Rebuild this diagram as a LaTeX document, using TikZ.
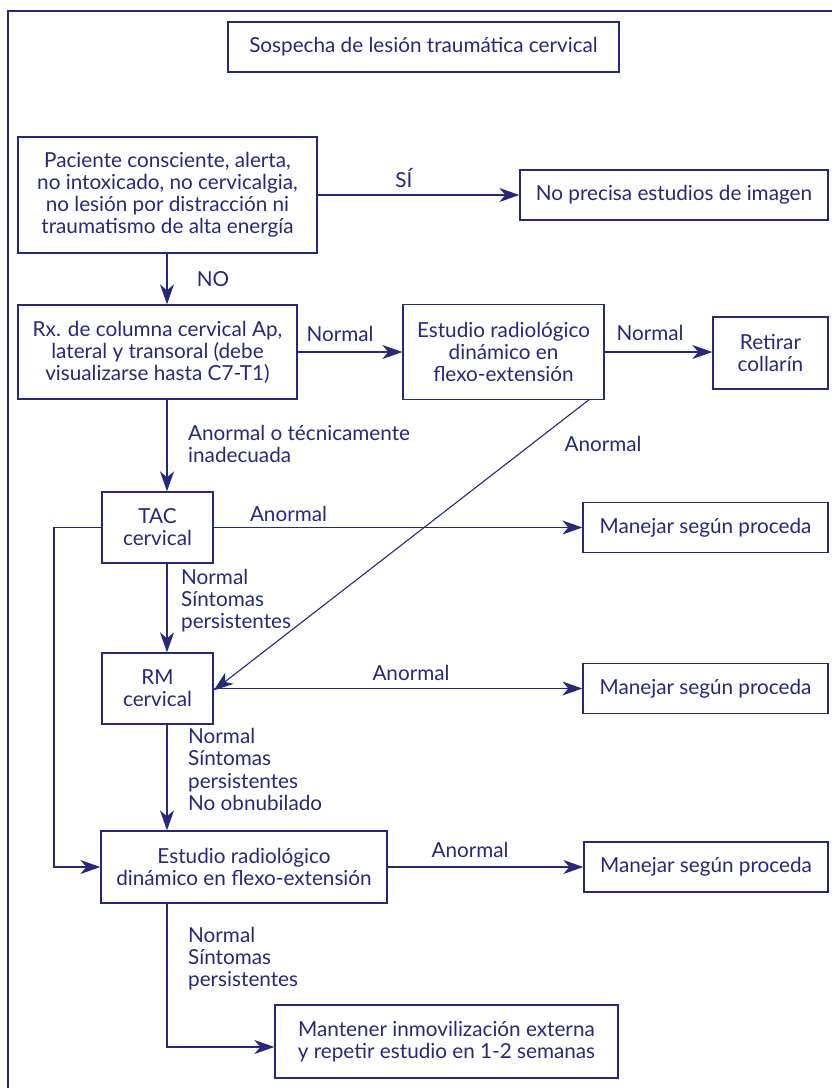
\documentclass[tikz,border=0pt]{standalone}
\usepackage{fontspec}
\setmainfont{Lato}
\usetikzlibrary{arrows.meta,calc}
\definecolor{navy}{RGB}{40,40,122}
\newcommand{\mlines}[1]{\begin{tabular}[t]{@{}l@{}}#1\end{tabular}}
\begin{document}
\begin{tikzpicture}[x=1pt,y=-1pt,
  font=\fontsize{20.7}{22}\selectfont,
  every node/.style={text=navy},
  box/.style={draw=navy, line width=1.3pt, inner sep=0pt, align=center, rectangle},
  arr/.style={draw=navy, line width=1.4pt, -{Stealth[length=20pt,width=14pt,inset=6pt]}},
  lbl/.style={inner sep=0pt, anchor=base west},
  clbl/.style={inner sep=0pt, anchor=base}]
\useasboundingbox (0,0) rectangle (832,1088);
\draw[navy, line width=2.8pt] (8,1100) -- (8,11) -- (850,11);

% boxes
\node[box, minimum width=391pt, minimum height=50pt] (start) at (423.5,47) {Sospecha de lesión traumática cervical};
\node[box, minimum width=299pt, minimum height=116pt] (pac) at (167.5,195) {Paciente consciente, alerta,\\no intoxicado, no cervicalgia,\\no lesión por distracción ni\\traumatismo de alta energía};
\node[box, minimum width=308pt, minimum height=50pt] (noprec) at (674,195) {No precisa estudios de imagen};
\node[box, minimum width=279pt, minimum height=94pt] (rx) at (157.5,352) {Rx. de columna cervical Ap,\\lateral y transoral (debe\\visualizarse hasta C7-T1)};
\node[box, minimum width=201pt, minimum height=95pt] (est1) at (503.5,352) {Estudio radiológico\\dinámico en\\flexo-extensión};
\node[box, minimum width=115pt, minimum height=72pt] (ret) at (770.5,353) {Retirar\\collarín};
\node[box, minimum width=111pt, minimum height=71pt] (tac) at (157.5,527.5) {TAC\\cervical};
\node[box, minimum width=245pt, minimum height=50pt] (man1) at (705.5,527.5) {Manejar según proceda};
\node[box, minimum width=111pt, minimum height=71pt] (rm) at (157.5,688.5) {RM\\cervical};
\node[box, minimum width=245pt, minimum height=50pt] (man2) at (705.5,688.5) {Manejar según proceda};
\node[box, minimum width=286pt, minimum height=72pt] (est2) at (244,867) {Estudio radiológico\\dinámico en flexo-extensión};
\node[box, minimum width=244pt, minimum height=50pt] (man3) at (706,867) {Manejar según proceda};
\node[box, minimum width=343pt, minimum height=73pt] (mant) at (446.5,1041.5) {Mantener inmovilización externa\\y repetir estudio en 1-2 semanas};

% labels
\node[clbl] (lsi) at (404,187) {SÍ};
\node[clbl] (lno) at (213,286) {NO};
\node[clbl] (lnor1) at (340,341) {Normal};
\node[clbl] (lnor2) at (650,340) {Normal};
\node[clbl] (lan1) at (603,451) {Anormal};
\node[lbl] (lan2) at (188,440) {\mlines{Anormal o técnicamente\\inadecuada}};
\node[clbl] (lan3) at (288.5,521) {Anormal};
\node[lbl] (ltac) at (181,584) {\mlines{Normal\\Síntomas\\persistentes}};
\node[clbl] (lan4) at (411,680) {Anormal};
\node[lbl, font=\fontsize{20.7}{22.6}\selectfont] (lrm) at (188,743) {\mlines{Normal\\Síntomas\\persistentes\\No obnubilado}};
\node[clbl] (lan5) at (470,857) {Anormal};
\node[lbl] (lest) at (188,942) {\mlines{Normal\\Síntomas\\persistentes}};

% connectors
\coordinate (cx) at (167,0);
\coordinate (lx) at (54,0);
\draw[arr] (pac.east) -- (noprec.west);
\draw[arr] (cx |- pac.south) -- (cx |- rx.north);
\draw[arr] (rx.east) -- (est1.west);
\draw[arr] (est1.east) -- (est1.east -| ret.west);
\draw[arr] (cx |- rx.south) -- (cx |- tac.north);
\draw[arr] (tac.east) -- (man1.west);
\draw[arr, line width=1.1pt] ($(est1.south west)!0.92!(est1.south east)$) -- ([yshift=-2pt]rm.east);
\draw[arr] (cx |- tac.south) -- (cx |- rm.north);
\draw[arr] (rm.east) -- (man2.west);
\draw[arr] (cx |- rm.south) -- (cx |- est2.north);
\draw[arr] (tac.west) -- (lx |- tac.west) -- (lx |- est2.west) -- (est2.west);
\draw[arr] (est2.east) -- (man3.west);
\draw[arr] (cx |- est2.south) -- (cx |- 0,1047) -- (mant.west |- 0,1047);
\end{tikzpicture}
\end{document}
